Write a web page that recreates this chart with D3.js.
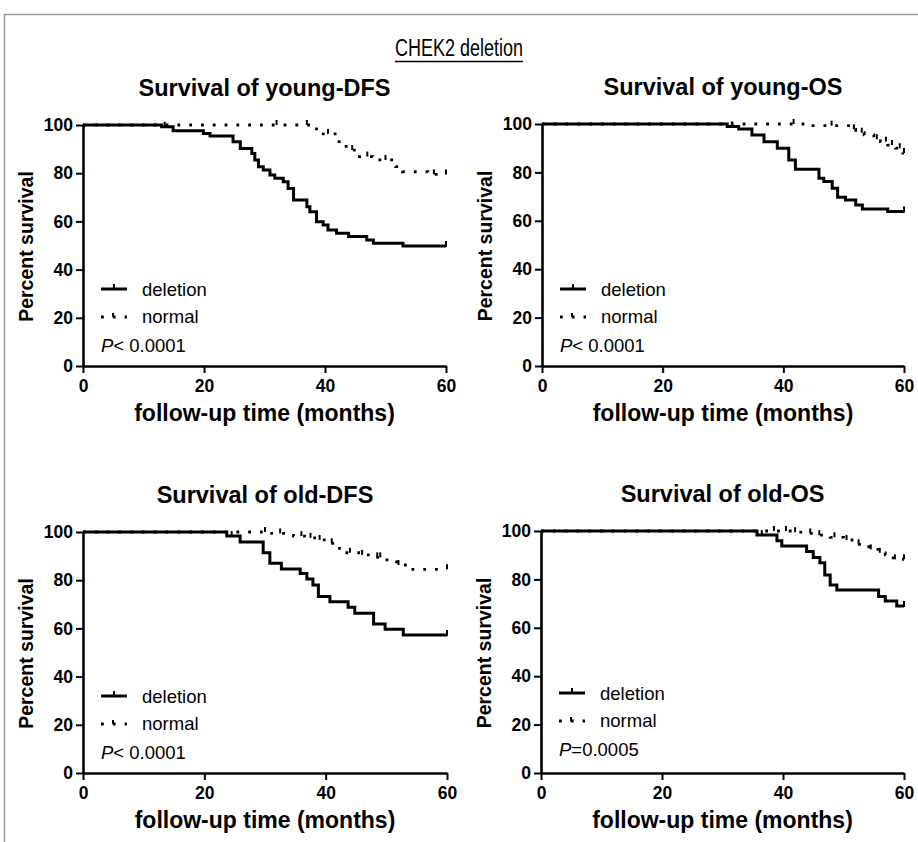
<!DOCTYPE html>
<html><head><meta charset="utf-8">
<script src="https://cdn.jsdelivr.net/npm/d3@7/dist/d3.min.js"></script>
<style>
html,body{margin:0;padding:0;background:#fff;}
svg{display:block;}
text{font-family:"Liberation Sans",Arial,sans-serif;fill:#000;}
</style></head>
<body>
<svg id="c" width="918" height="842"></svg>
<script>
// ---- data ----
const mainTitle = "CHEK2 deletion";
const panelTitles = ["Survival of young-DFS","Survival of young-OS","Survival of old-DFS","Survival of old-OS"];
const pValues = ["< 0.0001","< 0.0001","< 0.0001","=0.0005"];
const seriesNames = ["deletion","normal"];
const xTicks = [0,20,40,60];
const yTicks = [0,20,40,60,80,100];
const xLabel = "follow-up time (months)";
const yLabel = "Percent survival";

// young-DFS
const yDfsDelT = [0,13.0,14.9,19.9,21.0,24.8,26.0,27.9,28.4,29.0,29.8,30.9,31.7,33.1,33.9,34.8,37.0,37.5,38.6,39.7,40.5,41.9,43.9,46.9,48.0,52.9];
const yDfsDelS = [100,99.3,97.6,96.5,95.4,93.1,90.3,88.2,85.5,82.7,81.3,79.3,77.9,76.5,73.7,68.9,66.1,64.0,59.9,58.5,56.4,55.1,53.7,52.3,50.9,49.8];
const yDfsNorT = [0,38.6,39.7,41.9,43.5,45.7,47.9,51.7,52.8,57.0];
const yDfsNorS = [100,97.2,96.3,93.1,89.6,86.9,85.5,82.7,80.6,79.5];
const yDfsDelC = [13.5,60];
const yDfsNorC = [32,37,40.5,44.5,47,50,58,60];
// young-OS
const yOsDelT = [0,30.7,32.6,34.8,36.8,39.0,40.9,42.0,45.9,46.7,48.1,49.0,50.3,52.0,53.1,57.3];
const yOsDelS = [100,99.0,97.9,95.5,92.7,90.0,85.1,81.3,77.6,76.2,73.4,69.7,68.6,66.5,64.9,63.8];
const yOsNorT = [0,44.5,51.2,52.0,53.4,55.0,56.1,57.3,58.6,59.8];
const yOsNorS = [100,99.3,97.8,96.4,95.5,93.7,92.7,91.3,90.0,88.0];
const yOsDelC = [31.5,60];
const yOsNorC = [41.7,48,51.7,53,55.5,57,58,59.3,60];
// old-DFS
const oDfsDelT = [0,23.7,25.9,29.7,30.8,32.7,35.8,36.9,37.9,38.8,40.7,43.7,44.8,47.9,49.8,52.8];
const oDfsDelS = [100,98.3,95.9,91.4,87.0,84.6,82.8,80.5,78.0,73.2,71.1,68.8,66.3,61.8,59.6,57.3];
const oDfsNorT = [0,30.5,34.7,36.9,38.5,40.2,41.8,43.5,45.7,47.9,50.1,51.7,53.4];
const oDfsNorS = [100,99.4,98.3,97.6,96.7,95.3,93.2,91.4,90.5,89.5,88.4,86.3,84.5];
const oDfsDelC = [24.5,60];
const oDfsNorC = [30,32.5,36,37.5,39,41,44,46,48.5,49,52,60];
// old-OS
const oOsDelT = [0,35.7,39.0,39.8,43.9,45.0,46.1,46.9,47.8,48.9,55.8,56.9,58.8];
const oOsDelS = [100,98.3,96.0,93.8,91.5,89.1,86.9,81.8,77.7,75.6,72.9,71.1,69.0];
const oOsNorT = [0,41.7,43.9,45.5,47.8,50.0,51.4,53.0,54.4,55.8,56.9,58.2];
const oOsNorS = [100,99.5,99.0,98.3,97.4,96.3,94.5,93.5,92.4,91.0,90.1,88.3];
const oOsDelC = [36.5,60];
const oOsNorC = [38.5,40.5,42,44.5,46,48.5,50.5,52.5,54.5,56,58.5,60];

const panelData = [
  {del:[yDfsDelT,yDfsDelS,yDfsDelC], nor:[yDfsNorT,yDfsNorS,yDfsNorC]},
  {del:[yOsDelT,yOsDelS,yOsDelC], nor:[yOsNorT,yOsNorS,yOsNorC]},
  {del:[oDfsDelT,oDfsDelS,oDfsDelC], nor:[oDfsNorT,oDfsNorS,oDfsNorC]},
  {del:[oOsDelT,oOsDelS,oOsDelC], nor:[oOsNorT,oOsNorS,oOsNorC]}
];

// ---- layout ----
const layout = [
  {x0:83, x1:446, yT:125, yB:366, legY:289},
  {x0:542, x1:904, yT:124, yB:366, legY:289},
  {x0:83, x1:447, yT:532, yB:773, legY:696},
  {x0:541, x1:904, yT:531, yB:773, legY:693}
];

const svg = d3.select("#c");
// frame
svg.append("path").attr("d","M4.5,842 L4.5,14.5 L918,14.5").attr("fill","none").attr("stroke","#9a9a9a").attr("stroke-width",1.5);

// main title
const titleW = 128;
svg.append("text").attr("x",459).attr("y",56).attr("text-anchor","middle")
  .attr("textLength",titleW).attr("lengthAdjust","spacingAndGlyphs")
  .style("font-family","'Liberation Sans Narrow','Liberation Sans',sans-serif").style("font-size","23px").text(mainTitle);
svg.append("line").attr("x1",459-titleW/2).attr("x2",459+titleW/2).attr("y1",61.5).attr("y2",61.5).attr("stroke","#000").attr("stroke-width",1.4);

layout.forEach((L,i)=>{
  const g = svg.append("g");
  const x = d3.scaleLinear().domain([0,60]).range([L.x0,L.x1]);
  const y = d3.scaleLinear().domain([0,100]).range([L.yB,L.yT]);
  const cx = (L.x0+L.x1)/2;

  // title
  g.append("text").attr("x",cx).attr("y",L.yT-29).attr("text-anchor","middle")
    .style("font-size","23.5px").style("font-weight","bold").text(panelTitles[i]);

  // axes
  const ya = g.append("g").attr("transform",`translate(${L.x0},0)`)
    .call(d3.axisLeft(y).tickValues(yTicks).tickSize(7).tickPadding(3).tickSizeOuter(0));
  const xa = g.append("g").attr("transform",`translate(0,${L.yB})`)
    .call(d3.axisBottom(x).tickValues(xTicks).tickSize(7).tickPadding(7).tickSizeOuter(0));
  [ya,xa].forEach(a=>{
    a.select(".domain").attr("stroke","#000").attr("stroke-width",2.6);
    a.selectAll(".tick line").attr("stroke","#000").attr("stroke-width",2);
    a.selectAll(".tick text").style("font-size","17.5px").style("font-weight","bold")
      .style("font-family","'Liberation Sans',Arial,sans-serif").attr("fill","#000");
  });

  // axis labels
  g.append("text").attr("x",cx).attr("y",L.yB+55).attr("text-anchor","middle")
    .style("font-size","23px").style("font-weight","bold").text(xLabel);
  g.append("text").attr("transform",`translate(${L.x0-50},${(L.yT+L.yB)/2+1}) rotate(-90)`)
    .attr("text-anchor","middle").style("font-size","19.5px").style("font-weight","bold").text(yLabel);

  // curves
  const line = d3.line().x(d=>x(d[0])).y(d=>y(d[1])).curve(d3.curveStepAfter);
  const D = panelData[i];
  const build = (T,S)=>{const p=T.map((t,k)=>[t,S[k]]); p.push([60,S[S.length-1]]); return p;};
  const valAt = (T,S,t)=>{let v=S[0]; for(let k=0;k<T.length;k++){ if(T[k]<=t) v=S[k]; } return v;};

  // normal (dotted)
  g.append("path").datum(build(D.nor[0],D.nor[1])).attr("d",line).attr("fill","none")
    .attr("stroke","#000").attr("stroke-width",2.8).attr("stroke-dasharray","2.8,9");
  D.nor[2].forEach(t=>{
    const v=valAt(D.nor[0],D.nor[1],t);
    g.append("line").attr("x1",x(t)).attr("x2",x(t)).attr("y1",y(v)).attr("y2",y(v)-5)
      .attr("stroke","#000").attr("stroke-width",2);
  });
  // deletion (solid)
  g.append("path").datum(build(D.del[0],D.del[1])).attr("d",line).attr("fill","none")
    .attr("stroke","#000").attr("stroke-width",3);
  D.del[2].forEach(t=>{
    const v=valAt(D.del[0],D.del[1],t);
    g.append("line").attr("x1",x(t)).attr("x2",x(t)).attr("y1",y(v)+1).attr("y2",y(v)-5)
      .attr("stroke","#000").attr("stroke-width",2);
  });

  // legend
  const lx = L.x0 + 18, ly = L.legY;
  g.append("line").attr("x1",lx).attr("x2",lx+26).attr("y1",ly).attr("y2",ly).attr("stroke","#000").attr("stroke-width",3);
  g.append("line").attr("x1",lx+13).attr("x2",lx+13).attr("y1",ly).attr("y2",ly-5).attr("stroke","#000").attr("stroke-width",2);
  g.append("text").attr("x",lx+41).attr("y",ly+7).style("font-size","18.5px").text(seriesNames[0]);
  const ny = ly+28;
  g.append("line").attr("x1",lx).attr("x2",lx+26).attr("y1",ny).attr("y2",ny).attr("stroke","#000")
    .attr("stroke-width",2.8).attr("stroke-dasharray","2.8,9");
  g.append("line").attr("x1",lx+12).attr("x2",lx+12).attr("y1",ny).attr("y2",ny-4).attr("stroke","#000").attr("stroke-width",2);
  g.append("text").attr("x",lx+41).attr("y",ny+6).style("font-size","18.5px").text(seriesNames[1]);
  const pt = g.append("text").attr("x",lx).attr("y",ly+63).style("font-size","18.5px");
  pt.append("tspan").style("font-style","italic").text("P");
  pt.append("tspan").text(pValues[i]);
});
</script>
</body></html>
